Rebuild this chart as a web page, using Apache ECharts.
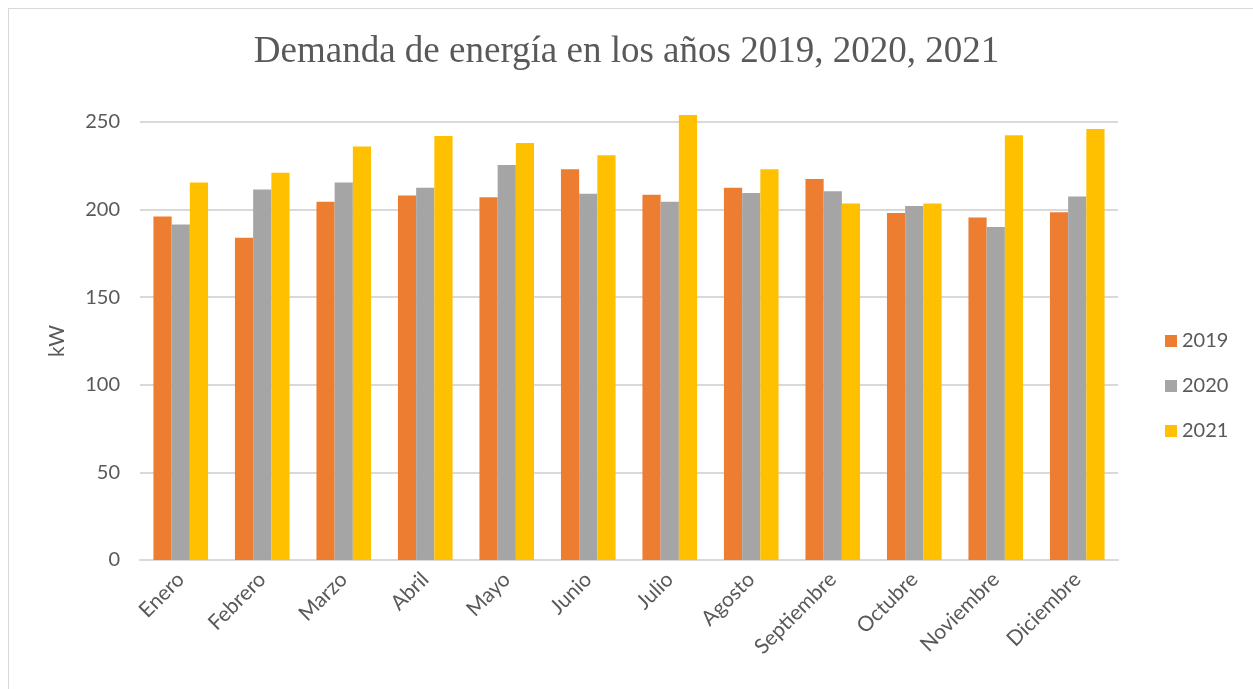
<!DOCTYPE html>
<html>
<head>
<meta charset="utf-8">
<script src="https://cdn.jsdelivr.net/npm/echarts@6/dist/echarts.min.js"></script>
<style>
  html, body { margin: 0; padding: 0; background: #fff; }
  #frame { position: absolute; left: 8px; top: 8px; width: 1245px; height: 681px; border: 1px solid #d9d9d9; border-right: none; border-bottom: none; box-sizing: border-box; }
  #chart { width: 1253px; height: 689px; }
</style>
</head>
<body>
<div id="frame"></div>
<div id="chart"></div>
<script>
// meses y demanda mensual (kW)
const months = ['Enero', 'Febrero', 'Marzo', 'Abril', 'Mayo', 'Junio', 'Julio', 'Agosto', 'Septiembre', 'Octubre', 'Noviembre', 'Diciembre'];
const d2019 = [196, 184, 204.5, 208, 207, 223, 208.5, 212.5, 217.5, 198, 195.5, 198.5];
const d2020 = [191.5, 211.5, 215.5, 212.5, 225.5, 209, 204.5, 209.5, 210.5, 202, 190, 207.5];
const d2021 = [215.5, 221, 236, 242, 238, 231, 254, 223, 203.5, 203.5, 242.5, 246];
const yTicks = [0, 50, 100, 150, 200, 250];

const textColor = '#595959';
const colors = ['#ED7D31', '#A5A5A5', '#FFC000'];
const sansFont = 'Lato, "Open Sans", sans-serif';

let chart = echarts.init(document.getElementById('chart'));

function bar(name, data) {
    return {
        name: name,
        type: 'bar',
        data: data,
        clip: false, // Julio 2021 sobrepasa el eje
        barGap: '0%',
        barCategoryGap: '33%'
    };
}

chart.setOption({
    animation: false,
    color: colors,
    title: {
        text: 'Demanda de energía en los años 2019, 2020, 2021',
        left: 'center',
        top: 29,
        textStyle: {
            fontFamily: '"Liberation Serif", "DejaVu Serif", serif',
            fontSize: 37,
            fontWeight: 'normal',
            color: textColor
        }
    },
    legend: {
        orient: 'vertical',
        left: 1160,
        top: 326,
        itemWidth: 12,
        itemHeight: 12,
        itemGap: 25,
        icon: 'rect',
        textStyle: { fontFamily: sansFont, fontSize: 20, color: textColor }
    },
    grid: { left: 140, right: 135, top: 122, bottom: 129 },
    xAxis: {
        type: 'category',
        data: months,
        axisLine: { lineStyle: { color: '#d9d9d9', width: 2 } },
        axisTick: { show: false },
        axisLabel: {
            rotate: 45,
            interval: 0,
            margin: 16,
            fontFamily: sansFont,
            fontSize: 21,
            color: textColor
        }
    },
    yAxis: {
        type: 'value',
        min: yTicks[0],
        max: yTicks[yTicks.length - 1],
        interval: 50,
        name: 'kW',
        nameLocation: 'middle',
        nameGap: 72,
        nameRotate: 90,
        nameTextStyle: { fontFamily: sansFont, fontSize: 21, color: textColor },
        axisLine: { show: false },
        axisTick: { show: false },
        splitLine: { lineStyle: { color: '#d9d9d9', width: 2 } },
        axisLabel: {
            margin: 20,
            fontFamily: sansFont,
            fontSize: 20,
            color: textColor
        }
    },
    series: [
        bar('2019', d2019),
        bar('2020', d2020),
        bar('2021', d2021)
    ]
});
</script>
</body>
</html>
